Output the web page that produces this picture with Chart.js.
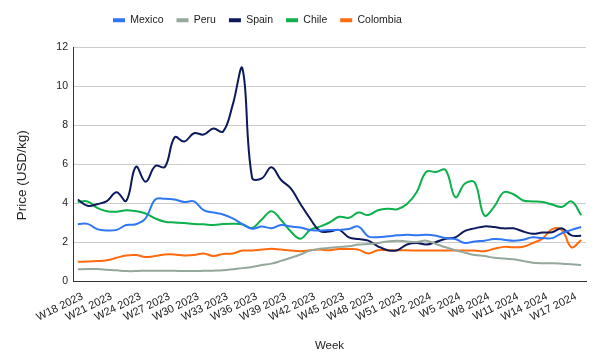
<!DOCTYPE html>
<html>
<head>
<meta charset="utf-8">
<script src="https://cdn.jsdelivr.net/npm/chart.js@4.4.1/dist/chart.umd.min.js"></script>
<style>
  html, body { margin: 0; padding: 0; background: #fff; }
  #wrap { width: 602px; height: 359px; }
</style>
</head>
<body>
<div id="wrap"><canvas id="chart" width="602" height="359"></canvas></div>
<script>
const weeks = [
  "W18 2023", "W19 2023", "W20 2023", "W21 2023", "W22 2023", "W23 2023", "W24 2023", "W25 2023",
  "W26 2023", "W27 2023", "W28 2023", "W29 2023", "W30 2023", "W31 2023", "W32 2023", "W33 2023",
  "W34 2023", "W35 2023", "W36 2023", "W37 2023", "W38 2023", "W39 2023", "W40 2023", "W41 2023",
  "W42 2023", "W43 2023", "W44 2023", "W45 2023", "W46 2023", "W47 2023", "W48 2023", "W49 2023",
  "W50 2023", "W51 2023", "W52 2023", "W1 2024", "W2 2024", "W3 2024", "W4 2024", "W5 2024",
  "W6 2024", "W7 2024", "W8 2024", "W9 2024", "W10 2024", "W11 2024", "W12 2024", "W13 2024",
  "W14 2024", "W15 2024", "W16 2024", "W17 2024", "W18 2024"
];

const mexico = [
  2.91, 2.93, 2.66, 2.59, 2.62, 2.87, 2.91, 3.21, 4.18, 4.22, 4.18, 4.05, 4.08, 3.63, 3.51, 3.41,
  3.21, 2.91, 2.68, 2.79, 2.71, 2.87, 2.79, 2.74, 2.62, 2.59, 2.62, 2.62, 2.67, 2.79, 2.29, 2.25,
  2.29, 2.34, 2.37, 2.34, 2.37, 2.32, 2.20, 2.15, 1.95, 2.03, 2.07, 2.15, 2.12, 2.07, 2.12, 2.24,
  2.20, 2.20, 2.45, 2.62, 2.77
];
const peru = [
  0.60, 0.61, 0.61, 0.58, 0.55, 0.51, 0.51, 0.53, 0.53, 0.53, 0.52, 0.51, 0.51, 0.52, 0.53, 0.55,
  0.60, 0.66, 0.72, 0.82, 0.89, 1.03, 1.19, 1.36, 1.56, 1.65, 1.70, 1.75, 1.78, 1.87, 1.90, 1.95,
  2.03, 2.07, 2.03, 2.00, 2.07, 1.90, 1.73, 1.58, 1.45, 1.33, 1.28, 1.19, 1.16, 1.11, 1.03, 0.94,
  0.91, 0.91, 0.89, 0.86, 0.82
];
const spain = [
  4.18, 3.86, 3.94, 4.10, 4.55, 4.11, 5.86, 5.09, 5.90, 5.85, 7.37, 7.15, 7.58, 7.51, 7.82, 7.66,
  9.03, 10.9, 5.30, 5.26, 5.83, 5.18, 4.75, 3.95, 3.20, 2.57, 2.54, 2.62, 2.24, 2.15, 2.07, 1.78,
  1.58, 1.58, 1.87, 1.95, 1.87, 2.00, 2.17, 2.24, 2.57, 2.70, 2.80, 2.77, 2.70, 2.70, 2.54, 2.42,
  2.49, 2.50, 2.70, 2.34, 2.32
];
const chile = [
  4.05, 4.08, 3.75, 3.58, 3.55, 3.63, 3.58, 3.46, 3.21, 3.04, 3.00, 2.97, 2.92, 2.91, 2.87, 2.92,
  2.94, 2.91, 2.72, 3.15, 3.58, 3.13, 2.54, 2.17, 2.62, 2.79, 3.00, 3.29, 3.24, 3.51, 3.38, 3.63,
  3.71, 3.68, 3.95, 4.55, 5.60, 5.59, 5.69, 4.30, 5.00, 5.05, 3.36, 3.80, 4.55, 4.45, 4.13, 4.08,
  4.05, 3.92, 3.80, 4.08, 3.38
];
const colombia = [
  0.99, 1.00, 1.02, 1.06, 1.19, 1.31, 1.33, 1.23, 1.28, 1.36, 1.36, 1.31, 1.33, 1.41, 1.28, 1.39,
  1.41, 1.56, 1.56, 1.61, 1.66, 1.61, 1.56, 1.53, 1.58, 1.61, 1.58, 1.64, 1.64, 1.61, 1.41, 1.58,
  1.58, 1.58, 1.58, 1.56, 1.56, 1.56, 1.56, 1.56, 1.56, 1.56, 1.53, 1.65, 1.75, 1.73, 1.76, 1.95,
  2.17, 2.66, 2.62, 1.73, 2.10
];

const yTicks = [0, 2, 4, 6, 8, 10, 12];

const FONT = "'Liberation Sans', Arial, sans-serif";
const TEXT = "#222";

function series(label, data, color) {
  return {
    label: label,
    data: data,
    borderColor: color,
    backgroundColor: color,
    borderWidth: 2,
    pointRadius: 0,
    pointHoverRadius: 0,
    tension: 0.4,
    fill: false,
  };
}

// legend box is fixed so the plot starts where the reference's does,
// and its items are moved to the reference's left edge
const legendPlace = {
  id: "legendPlace",
  beforeInit(chart) {
    const fit = chart.legend.fit;
    chart.legend.fit = function () {
      fit.call(this);
      this.height = 45;
    };
  },
  afterLayout(chart) {
    chart.legend.left = 100;
  },
};

new Chart(document.getElementById("chart"), {
  type: "line",
  data: {
    labels: weeks,
    datasets: [
      series("Mexico", mexico, "#3076f4"),
      series("Peru", peru, "#94a89c"),
      series("Spain", spain, "#0c1a5b"),
      series("Chile", chile, "#0db04b"),
      series("Colombia", colombia, "#ff6a0d"),
    ],
  },
  plugins: [legendPlace],
  options: {
    responsive: false,
    animation: false,
    layout: { padding: { top: 2, right: 16, left: 0, bottom: 0 } },
    plugins: {
      tooltip: { enabled: false },
      legend: {
        position: "top",
        align: "start",
        labels: {
          boxWidth: 12,
          boxHeight: 4,
          padding: 13,
          color: TEXT,
          font: { family: FONT, size: 10.5 },
          generateLabels(chart) {
            return Chart.defaults.plugins.legend.labels
              .generateLabels(chart)
              .map((l) => ({ ...l, lineWidth: 0 }));
          },
        },
      },
    },
    scales: {
      x: {
        offset: true,
        grid: { display: false, drawTicks: false },
        border: { display: true, color: "#333", width: 1 },
        afterFit(scale) { scale.height = 78; },
        ticks: {
          autoSkip: false,
          maxRotation: 26,
          minRotation: 26,
          padding: 9,
          labelOffset: 4.5,
          color: TEXT,
          font: { family: FONT, size: 11 },
          callback: (v, i) => (i % 3 === 0 ? weeks[i] : null),
        },
        title: {
          display: true,
          text: "Week",
          color: TEXT,
          font: { family: FONT, size: 11.5 },
          padding: { top: 0, bottom: 6 },
        },
      },
      y: {
        min: 0,
        max: 12,
        afterFit(scale) { scale.width = 73; },
        afterBuildTicks(scale) { scale.ticks = yTicks.map((v) => ({ value: v })); },
        grid: { color: "#ccc", drawTicks: false },
        border: { display: true, color: "#333", width: 1 },
        ticks: {
          padding: 5,
          color: TEXT,
          font: { family: FONT, size: 10.5 },
        },
        title: {
          display: true,
          text: "Price (USD/kg)      ",
          color: TEXT,
          font: { family: FONT, size: 13.5 },
          padding: { top: 14, bottom: 0 },
        },
      },
    },
  },
});
</script>
</body>
</html>
